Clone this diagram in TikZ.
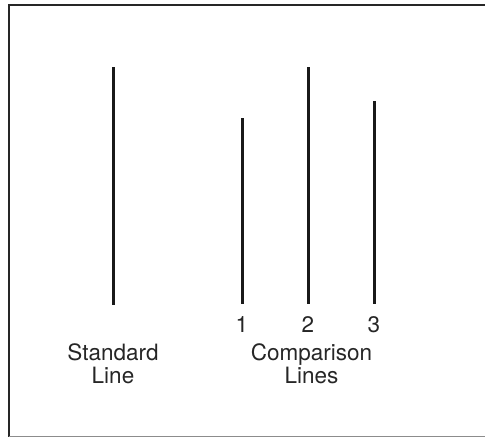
\documentclass[tikz,border=0pt]{standalone}
\usepackage{fontspec}
\setmainfont{TeX Gyre Heros}
\begin{document}
\begin{tikzpicture}[x=1pt,y=-1pt,
  bar/.style={line width=3pt,black!90},
  lbl/.style={anchor=base,inner sep=0pt,font=\fontsize{22.5}{24}\selectfont,text=black!85}]
\useasboundingbox (0,0) rectangle (485,437);
% frame (open on the right)
\draw[line width=2pt,black!85] (485,5) -- (8.5,5) -- (8.5,437);
\draw[line width=1pt,black!45] (8.5,436) -- (485,436);
% standard line
\coordinate (s0) at (113.5,67);
\coordinate (s1) at (113.5,305);
\draw[bar] (s0) -- (s1);
% comparison lines
\coordinate (a0) at (242.5,118);
\coordinate (a1) at (242.5,304);
\coordinate (b0) at (308,67);
\coordinate (b1) at (308,304);
\coordinate (c0) at (374,101);
\coordinate (c1) at (374,304);
\draw[bar] (a0) -- (a1);
\draw[bar] (b0) -- (b1);
\draw[bar] (c0) -- (c1);
% labels
\node[lbl] (n1) at (242,332) {1};
\node[lbl] (n2) at (308,332) {2};
\node[lbl] (n3) at (374,332) {3};
\node[lbl] (std1) at (113,360) {Standard};
\node[lbl] (std2) at (113,383) {Line};
\node[lbl] (cmp1) at (311.5,360) {Comparison};
\node[lbl] (cmp2) at (311.5,383) {Lines};
\end{tikzpicture}
\end{document}
